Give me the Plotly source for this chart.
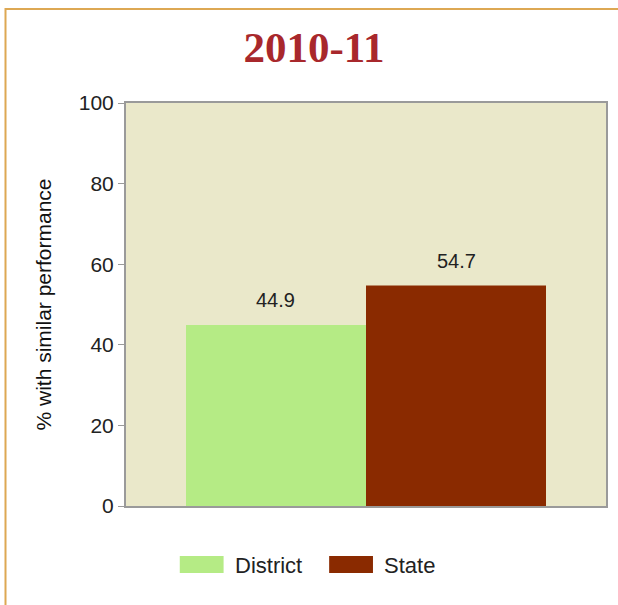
import plotly.graph_objects as go

# Share of students with similar performance, 2010-11
period = ["2010-11"]
series_names = ["District", "State"]
district_values = [44.9]
state_values = [54.7]
series_colors = ["#B5EB85", "#8A2A00"]
y_ticks = [0, 20, 40, 60, 80, 100]

W, H = 618, 605
ML, MR, MT, MB = 126, 10, 103, 99
PW, PH = W - ML - MR, H - MT - MB
BARGAP = 0.25


def px_x(x):
    return (x - ML) / PW


def px_y(y):
    return (H - MB - y) / PH


fig = go.Figure()
all_values = [district_values, state_values]
for name, vals, col in zip(series_names, all_values, series_colors):
    fig.add_trace(go.Bar(
        x=period, y=vals, name=name,
        marker=dict(color=col, line=dict(width=0)),
        showlegend=False,
    ))

# value labels above each grouped bar
half_bar = PW * (1 - BARGAP) / len(series_names) / 2
for i, vals in enumerate(all_values):
    offset = (2 * i - (len(series_names) - 1)) * half_bar
    for cat, v in zip(period, vals):
        fig.add_annotation(x=cat, y=v, text=f"{v:.1f}", showarrow=False,
                           xshift=offset, yshift=12, yanchor="bottom",
                           font=dict(family="Liberation Sans, Arial", size=20, color="#222222"))

# legend drawn as swatches + labels below the plot
legend_x = [180, 330]
for name, col, lx in zip(series_names, series_colors, legend_x):
    fig.add_shape(type="rect", xref="paper", yref="paper",
                  x0=px_x(lx), x1=px_x(lx + 44), y0=px_y(573), y1=px_y(556),
                  fillcolor=col, line=dict(width=0))
    fig.add_annotation(xref="paper", yref="paper", x=px_x(lx + 53), y=px_y(565),
                       text=name, showarrow=False, xanchor="left", yanchor="middle",
                       font=dict(family="Liberation Sans, Arial", size=22, color="#222222"))

# outer frame
fig.add_shape(type="rect", xref="paper", yref="paper",
              x0=px_x(5), x1=px_x(700), y0=px_y(700), y1=px_y(9),
              line=dict(color="#DDA853", width=2), fillcolor="rgba(0,0,0,0)", layer="below")

fig.update_layout(
    width=W, height=H,
    margin=dict(l=ML, r=MR, t=MT, b=MB),
    paper_bgcolor="white",
    plot_bgcolor="#EAE8CA",
    barmode="group",
    bargap=BARGAP,
    bargroupgap=0,
    title=dict(text="<b>2010-11</b>", x=314 / W, xanchor="center",
               y=1 - 47 / H, yanchor="middle",
               font=dict(family="Liberation Serif, Times New Roman", size=43, color="#A8282C")),
    xaxis=dict(showticklabels=False, ticks="", showgrid=False, zeroline=False,
               showline=True, linecolor="#9A9A9A", linewidth=2, mirror=True),
    yaxis=dict(range=[0, 100], tickvals=y_ticks, ticks="outside", ticklen=6,
               tickcolor="#9A9A9A", tickwidth=1, showgrid=False, zeroline=False,
               showline=True, linecolor="#9A9A9A", linewidth=2, mirror=True,
               tickfont=dict(family="Liberation Sans, Arial", size=21, color="#222222"),
               title=dict(text="% with similar performance", standoff=21,
                          font=dict(family="Liberation Sans, Arial", size=21, color="#111111"))),
)

fig.write_html("out.html")
